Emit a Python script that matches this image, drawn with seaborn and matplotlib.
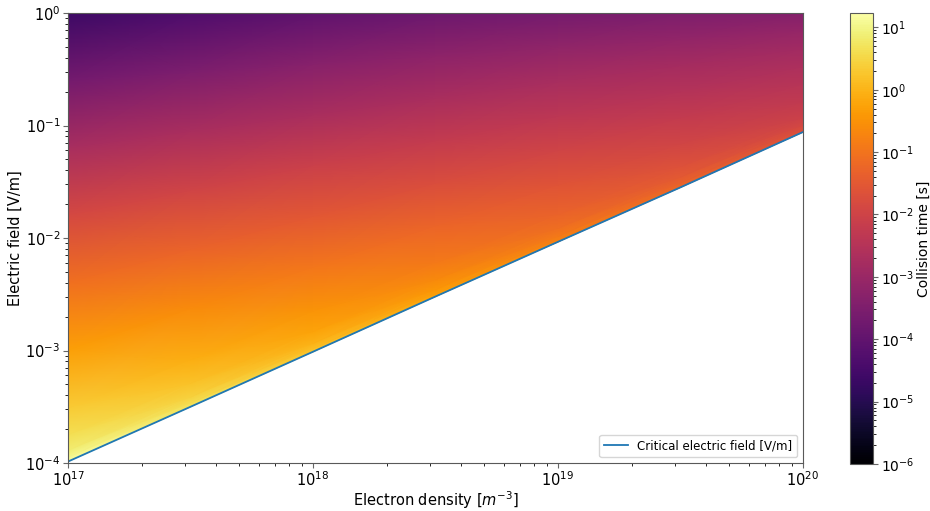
import numpy as np
import matplotlib
matplotlib.use("Agg")
import matplotlib.pyplot as plt
import seaborn as sns
from matplotlib.colors import LogNorm

# --- data ---------------------------------------------------------------
# electron density columns [m^-3]
electron_density = [1e17, 10**17.5, 1e18, 10**18.5, 1e19, 10**19.5, 1e20]
# critical electric field at those densities [V/m]
critical_field = [1.03e-4, 3.16e-4, 9.75e-4, 3.02e-3, 9.25e-3, 2.82e-2, 8.75e-2]
# rows: position between the critical field (0) and E = 1 V/m (1), in log space
field_fraction = [0.0, 0.01, 0.025, 0.06, 0.12, 0.25, 0.4, 0.55, 0.7, 0.85, 1.0]
# log10 of collision time [s]; rows follow field_fraction, columns electron_density
log10_collision_time = [
    [1.20, 0.73, 0.25, -0.23, -0.70, -1.18, -1.65],
    [1.05, 0.59, 0.14, -0.32, -0.78, -1.23, -1.69],
    [0.85, 0.42, -0.02, -0.45, -0.89, -1.32, -1.75],
    [0.62, 0.19, -0.24, -0.66, -1.09, -1.50, -1.88],
    [0.33, -0.08, -0.48, -0.89, -1.29, -1.67, -2.05],
    [-0.30, -0.63, -0.95, -1.28, -1.61, -1.94, -2.27],
    [-1.07, -1.30, -1.52, -1.74, -1.98, -2.22, -2.46],
    [-1.87, -1.98, -2.10, -2.23, -2.36, -2.50, -2.65],
    [-2.74, -2.71, -2.70, -2.72, -2.75, -2.79, -2.86],
    [-3.67, -3.49, -3.34, -3.22, -3.17, -3.12, -3.08],
    [-4.63, -4.33, -4.05, -3.82, -3.65, -3.50, -3.38],
]
color_min, color_max = 1e-6, 17.0

# --- figure ----------------------------------------------------------------
plt.rcParams["font.family"] = ["DejaVu Sans"]

fig = plt.figure(figsize=(9.30, 5.11), dpi=100)
ax = fig.add_axes([68 / 930, 48 / 511, 735 / 930, 450 / 511])
cax = fig.add_axes([850 / 930, 47 / 511, 23 / 930, 451 / 511])

n_arr = np.array(electron_density)
ec_arr = np.array(critical_field)
frac = np.array(field_fraction)
tau = 10 ** np.array(log10_collision_time)

N = np.tile(n_arr, (len(frac), 1))
E = ec_arr[None, :] ** (1.0 - frac[:, None])

mesh = ax.pcolormesh(N, E, tau, shading="gouraud", cmap="inferno",
                     norm=LogNorm(vmin=color_min, vmax=color_max), rasterized=True)

sns.lineplot(x=electron_density, y=critical_field, ax=ax, color="C0", lw=1.3,
             label="Critical electric field [V/m]")

ax.set_xscale("log")
ax.set_yscale("log")
ax.set_xlim(1e17, 1e20)
ax.set_ylim(1e-4, 1)
ax.set_xlabel("Electron density [$m^{-3}$]", fontsize=10.5, labelpad=0)
ax.set_ylabel("Electric field [V/m]", fontsize=10.5, labelpad=2)
ax.tick_params(labelsize=10.5, color="0.4", pad=2)
for s in ax.spines.values():
    s.set_color("0.35")
ax.legend(loc="lower right", fontsize=8.5, frameon=True)

cb = fig.colorbar(mesh, cax=cax)
cb.set_label("Collision time [s]", fontsize=10)
cax.yaxis.set_label_coords(2.92, 0.5)
cax.tick_params(labelsize=10, color="0.4", pad=2)
cb.outline.set_edgecolor("0.35")

fig.savefig("out.png", dpi=100)
